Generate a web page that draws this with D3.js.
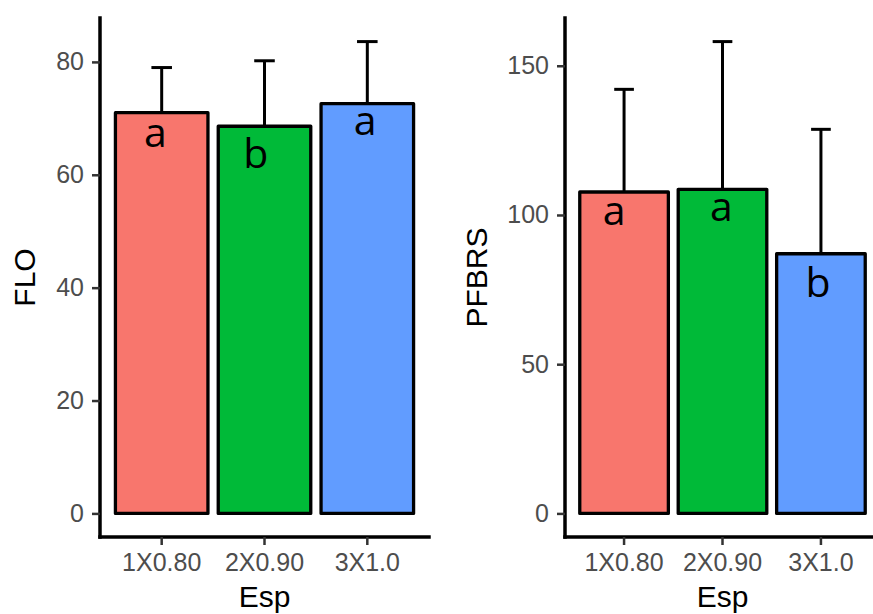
<!DOCTYPE html>
<html>
<head>
<meta charset="utf-8">
<script src="https://cdn.jsdelivr.net/npm/d3@7"></script>
<style>
  html, body { margin: 0; padding: 0; background: #fff; }
  svg { display: block; }
</style>
</head>
<body>
<svg id="chart" width="873" height="614"></svg>
<script>
// Spacing treatments (x categories)
const categories = ["1X0.80", "2X0.90", "3X1.0"];
const fillColors = ["#F8766D", "#00BA38", "#619CFF"];

// FLO: means and upper error limits
const floMeans = [71.0, 68.6, 72.6];
const floUpper = [79.0, 80.2, 83.6];
const floLetters = ["a", "b", "a"];
const floLetterY = [65.0, 61.2, 67.1];        // label baseline, data units
const floLetterShift = [-0.06, -0.085, -0.02]; // label offset, in category steps
const floTicks = [0, 20, 40, 60, 80];

// PFBRS: means and upper error limits
const pfbMeans = [107.7, 108.6, 87.0];
const pfbUpper = [142.1, 158.1, 128.7];
const pfbLetters = ["a", "a", "b"];
const pfbLetterY = [96.5, 98.0, 72.4];
const pfbLetterShift = [-0.10, -0.01, -0.03];
const pfbTicks = [0, 50, 100, 150];

const svg = d3.select("#chart");
const TOP = 18, BOTTOM = 537;

function panel(opts) {
  const g = svg.append("g");
  const x = d3.scaleBand()
    .domain(categories)
    .range([opts.left, opts.right])
    .paddingInner(0.1)
    .paddingOuter(0.15);
  const hi = d3.max(opts.upper);
  const pad = 0.05 * hi;
  const y = d3.scaleLinear().domain([-pad, hi + pad]).range([BOTTOM, TOP]);

  const rows = categories.map((c, i) => ({
    cat: c, mean: opts.means[i], upper: opts.upper[i], fill: fillColors[i],
    letter: opts.letters[i], ly: opts.letterY[i], shift: opts.shift[i]
  }));

  // error bars (upper half visible above each bar)
  const capW = x.step() * 0.2;
  const eb = g.append("g").attr("stroke", "#000").attr("stroke-width", 3).attr("fill", "none");
  rows.forEach(d => {
    const cx = x(d.cat) + x.bandwidth() / 2;
    eb.append("line").attr("x1", cx).attr("x2", cx).attr("y1", y(d.mean)).attr("y2", y(d.upper));
    eb.append("line").attr("x1", cx - capW / 2).attr("x2", cx + capW / 2)
      .attr("y1", y(d.upper)).attr("y2", y(d.upper));
  });

  // bars
  g.append("g").selectAll("rect").data(rows).join("rect")
    .attr("x", d => x(d.cat))
    .attr("width", x.bandwidth())
    .attr("y", d => y(d.mean))
    .attr("height", d => y(0) - y(d.mean))
    .attr("fill", d => d.fill)
    .attr("stroke", "#000")
    .attr("stroke-width", 3.3)
    .attr("stroke-linejoin", "round");

  // significance letters
  g.append("g").selectAll("text").data(rows).join("text")
    .attr("x", d => x(d.cat) + x.bandwidth() / 2 + d.shift * x.step())
    .attr("y", d => y(d.ly))
    .attr("text-anchor", "middle")
    .attr("font-family", "'Open Sans', sans-serif")
    .attr("font-size", 41)
    .attr("fill", "#000")
    .text(d => d.letter);

  // axes
  const yAxis = d3.axisLeft(y).tickValues(opts.ticks).tickSize(8).tickPadding(8).tickSizeOuter(0);
  const xAxis = d3.axisBottom(x).tickSize(8).tickPadding(8).tickSizeOuter(0);

  const ya = g.append("g").attr("transform", `translate(${opts.left},0)`).call(yAxis);
  const xa = g.append("g").attr("transform", `translate(0,${BOTTOM})`).call(xAxis);
  [ya, xa].forEach(a => {
    a.select(".domain").attr("stroke", "#000").attr("stroke-width", 3.5)
      .attr("stroke-linecap", "square");
    a.selectAll(".tick line").attr("stroke", "#333").attr("stroke-width", 2.5);
    a.selectAll(".tick text")
      .attr("fill", "#4d4d4d")
      .attr("font-family", "'Liberation Sans', Arial, sans-serif")
      .attr("font-size", 25);
  });
  // vertical axis spans full panel height
  ya.select(".domain").attr("d", `M0,${TOP}V${BOTTOM}`);
  xa.select(".domain").attr("d", `M${opts.left},0H${opts.right}`);

  // axis titles
  g.append("text")
    .attr("transform", `translate(${opts.titleX},${(TOP + BOTTOM) / 2}) rotate(-90)`)
    .attr("text-anchor", "middle")
    .attr("font-family", "'Liberation Sans', Arial, sans-serif")
    .attr("font-size", 30)
    .attr("fill", "#000")
    .text(opts.yTitle);
  g.append("text")
    .attr("x", (opts.left + opts.right) / 2)
    .attr("y", 607)
    .attr("text-anchor", "middle")
    .attr("font-family", "'Liberation Sans', Arial, sans-serif")
    .attr("font-size", 30)
    .attr("fill", "#000")
    .text("Esp");
}

panel({ left: 100, right: 429, means: floMeans, upper: floUpper, letters: floLetters,
        letterY: floLetterY, shift: floLetterShift, ticks: floTicks, yTitle: "FLO", titleX: 35 });
panel({ left: 565, right: 880, means: pfbMeans, upper: pfbUpper, letters: pfbLetters,
        letterY: pfbLetterY, shift: pfbLetterShift, ticks: pfbTicks, yTitle: "PFBRS", titleX: 487 });
</script>
</body>
</html>
